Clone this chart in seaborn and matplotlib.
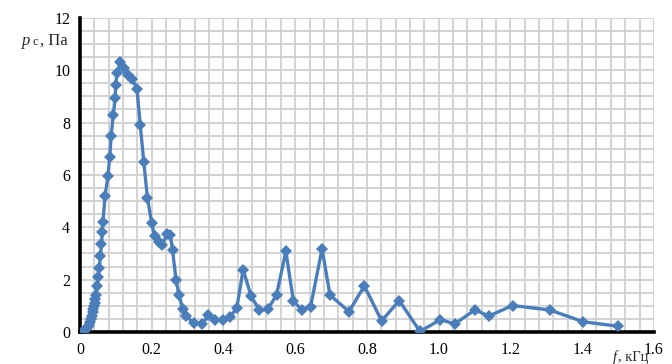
import numpy as np
import pandas as pd
import matplotlib
matplotlib.use("Agg")
import matplotlib.pyplot as plt
import seaborn as sns
from matplotlib.ticker import MultipleLocator

# frequency, kHz
freq = [0.005, 0.012, 0.017, 0.021, 0.025, 0.028, 0.031, 0.033, 0.035, 0.037,
        0.039, 0.041, 0.043, 0.045, 0.048, 0.051, 0.054, 0.057, 0.060, 0.062,
        0.064, 0.070, 0.078, 0.083, 0.087, 0.093, 0.098, 0.100, 0.103, 0.113,
        0.124, 0.135, 0.146, 0.159, 0.168, 0.178, 0.188, 0.200, 0.208, 0.220,
        0.228, 0.244, 0.252, 0.258, 0.268, 0.276, 0.287, 0.297, 0.317, 0.340,
        0.358, 0.376, 0.398, 0.418, 0.437, 0.455, 0.477, 0.500, 0.523, 0.548,
        0.574, 0.595, 0.618, 0.643, 0.675, 0.697, 0.750, 0.793, 0.841, 0.890,
        0.948, 1.005, 1.045, 1.101, 1.140, 1.206, 1.310, 1.403, 1.499]
# sound pressure, Pa
pressure = [0.0, 0.05, 0.1, 0.18, 0.28, 0.38, 0.5, 0.62, 0.75, 0.88,
            1.0, 1.12, 1.25, 1.4, 1.75, 2.1, 2.45, 2.9, 3.35, 3.8,
            4.2, 5.2, 5.95, 6.7, 7.5, 8.3, 8.95, 9.45, 9.9, 10.3,
            10.1, 9.8, 9.65, 9.28, 7.92, 6.48, 5.13, 4.15, 3.66, 3.42,
            3.32, 3.75, 3.7, 3.13, 1.97, 1.41, 0.86, 0.6, 0.34, 0.3,
            0.63, 0.46, 0.47, 0.58, 0.9, 2.38, 1.37, 0.84, 0.86, 1.41,
            3.08, 1.19, 0.84, 0.97, 3.18, 1.41, 0.78, 1.76, 0.42, 1.2,
            0.02, 0.47, 0.31, 0.84, 0.61, 1.01, 0.84, 0.39, 0.22]

df = pd.DataFrame({"f": freq, "p": pressure})

sns.set_style("white")
plt.rcParams["font.family"] = ["Liberation Serif", "DejaVu Serif"]

fig = plt.figure(figsize=(6.72, 3.64), dpi=100)
ax = fig.add_axes([0.119, 0.088, 0.854, 0.863])

sns.lineplot(data=df, x="f", y="p", ax=ax, sort=False, color="#4a7ebb",
             linewidth=2.4, marker="D", markersize=6.5, markeredgewidth=0,
             zorder=3)

ax.set_xlim(0, 1.6)
ax.set_ylim(0, 12)
ax.xaxis.set_major_locator(MultipleLocator(0.2))
ax.xaxis.set_minor_locator(MultipleLocator(0.04))
ax.yaxis.set_major_locator(MultipleLocator(2))
ax.yaxis.set_minor_locator(MultipleLocator(0.5))
ax.xaxis.set_major_formatter(plt.FuncFormatter(lambda v, _: "0" if abs(v) < 1e-9 else f"{v:.1f}"))
ax.yaxis.set_major_formatter(plt.FuncFormatter(lambda v, _: f"{v:.0f}"))

ax.grid(which="both", color="#d0d0d0", linewidth=1.3, zorder=0)
ax.set_axisbelow(True)
for s in ["top", "right"]:
    ax.spines[s].set_visible(False)
for s in ["left", "bottom"]:
    ax.spines[s].set_color("black")
    ax.spines[s].set_linewidth(2.6)
ax.tick_params(which="major", direction="out", length=5, width=2,
               labelsize=11.5, colors="black", pad=2)
ax.tick_params(which="minor", length=0)

ax.set_xlabel("")
ax.set_ylabel("")
fig.text(0.033, 0.877, "p", fontsize=12, style="italic", va="baseline")
fig.text(0.049, 0.877, "с", fontsize=9, va="baseline")
fig.text(0.060, 0.877, ", Па", fontsize=12, va="baseline")
fig.text(0.912, 0.0, "f", fontsize=10.5, style="italic", va="bottom")
fig.text(0.920, 0.0, ", кГц", fontsize=10.5, va="bottom")

fig.savefig("out.png", dpi=100)
